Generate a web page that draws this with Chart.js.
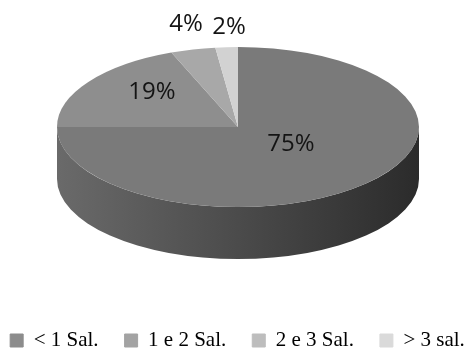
<!DOCTYPE html>
<html><head><meta charset="utf-8">
<script src="https://cdn.jsdelivr.net/npm/chart.js@4"></script>
<style>html,body{margin:0;padding:0;background:#fff}#wrap{width:468px;height:349px;position:relative}</style>
</head><body><div id="wrap"><canvas id="c"></canvas></div>
<script>
const categories = ['< 1 Sal.', '1 e 2 Sal.', '2 e 3 Sal.', '> 3 sal.'];
const values = [75, 19, 4, 2];
const valueLabels = ['75%', '19%', '4%', '2%'];
const sliceColors = ['#7a7a7a', '#8e8e8e', '#a8a8a8', '#d2d2d2'];
const legendColors = ['#8c8c8c', '#a3a3a3', '#bdbdbd', '#dadada'];

const TILT = 80 / 181, CX = 238, CY = 127, DEPTH = 52;
const labelFx = [0.414, 0.575, 1.154, 0.79];
const labelFy = [0.30, 0.778, 1.33, 1.25];

const pie3d = {
  id: 'pie3d',
  beforeDatasetsDraw(chart) {
    const arc = chart.getDatasetMeta(0).data[0];
    const ctx = chart.ctx;
    const R = arc.outerRadius;
    const ry = R * TILT;
    ctx.save();
    ctx.translate(CX, CY);
    const g = ctx.createLinearGradient(-R, 0, R, 0);
    g.addColorStop(0, '#6a6a6a');
    g.addColorStop(0.5, '#4b4b4b');
    g.addColorStop(1, '#2b2b2b');
    ctx.beginPath();
    ctx.ellipse(0, 0, R, ry, 0, 0, Math.PI, false);
    ctx.ellipse(0, DEPTH, R, ry, 0, Math.PI, 0, true);
    ctx.closePath();
    ctx.fillStyle = g;
    ctx.fill();
    ctx.scale(1, TILT);
    ctx.translate(-arc.x, -arc.y);
  },
  afterDatasetsDraw(chart) {
    const ctx = chart.ctx;
    ctx.restore();
    const arcs = chart.getDatasetMeta(0).data;
    ctx.save();
    ctx.font = '24px "Open Sans"';
    ctx.fillStyle = '#141414';
    ctx.textAlign = 'center';
    ctx.textBaseline = 'middle';
    arcs.forEach((a, i) => {
      const mid = (a.startAngle + a.endAngle) / 2;
      const x = CX + Math.cos(mid) * a.outerRadius * labelFx[i];
      const y = CY + Math.sin(mid) * a.outerRadius * TILT * labelFy[i];
      ctx.fillText(valueLabels[i], x, y);
    });
    ctx.restore();
  }
};

new Chart(document.getElementById('c'), {
  type: 'pie',
  data: {
    labels: categories,
    datasets: [{
      data: values,
      backgroundColor: sliceColors,
      borderWidth: 0,
      radius: 181,
      clip: false
    }]
  },
  options: {
    responsive: true,
    maintainAspectRatio: false,
    animation: false,
    layout: { padding: { left: -27, right: -34, bottom: -12 } },
    plugins: {
      tooltip: { enabled: false },
      legend: {
        position: 'bottom',
        labels: {
          boxWidth: 13,
          boxHeight: 13,
          padding: 26,
          color: '#151515',
          font: { family: '"Liberation Serif", serif', size: 21 },
          generateLabels: (chart) => categories.map((c, i) => ({
            text: c,
            fillStyle: legendColors[i],
            strokeStyle: legendColors[i],
            lineWidth: 1,
            hidden: false,
            index: i
          }))
        }
      }
    }
  },
  plugins: [pie3d]
});
</script>
</body></html>
